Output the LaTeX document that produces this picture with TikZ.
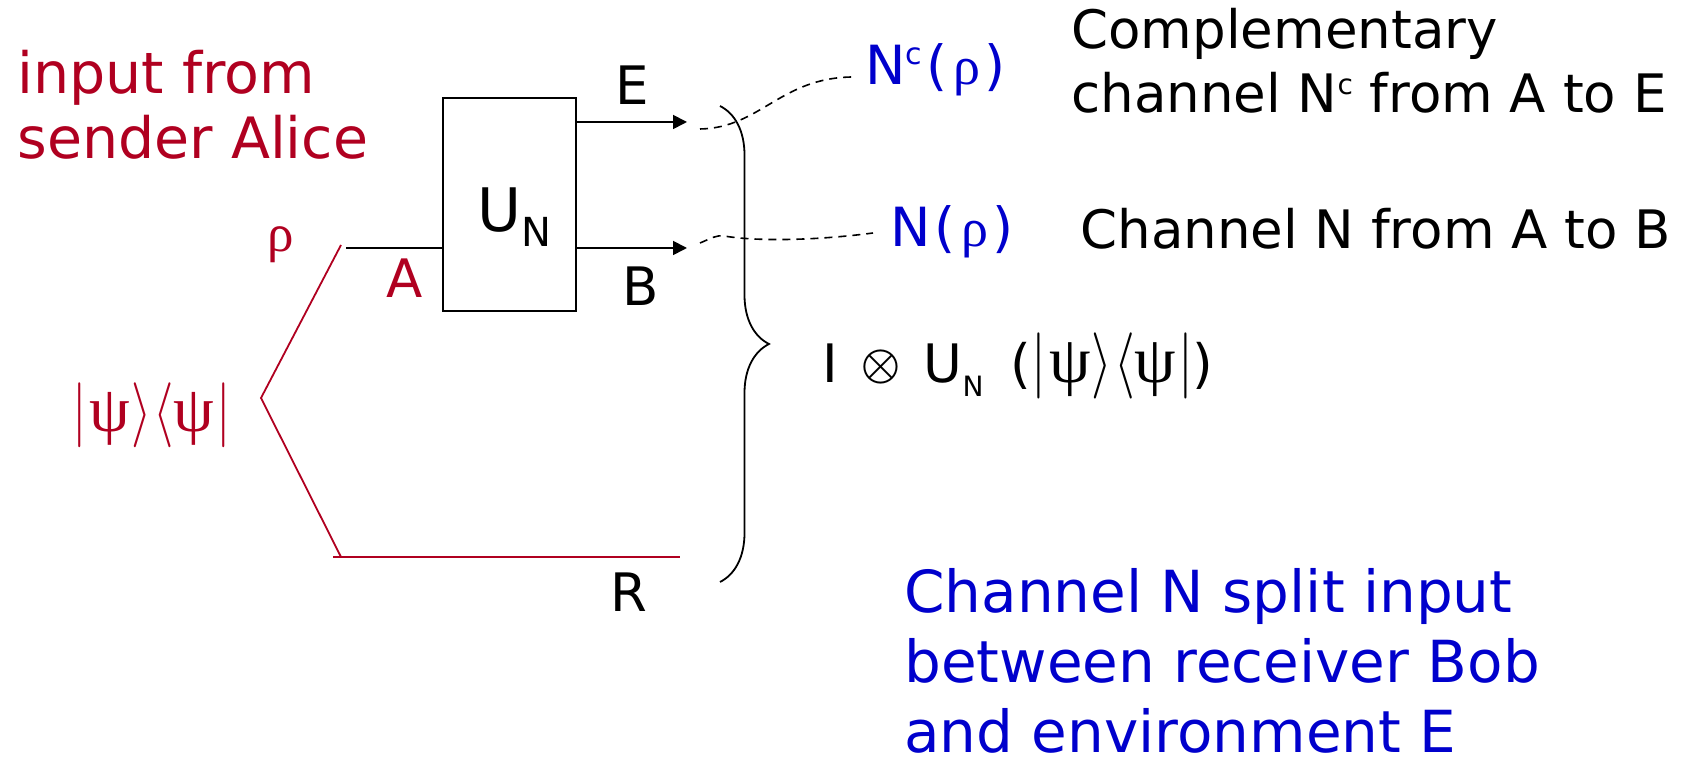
\documentclass[tikz,border=0pt]{standalone}
\usepackage{fontspec}
\usepackage{unicode-math}
\setmainfont{DejaVu Sans}
\newfontfamily\greekfont{Liberation Serif}
\usetikzlibrary{arrows.meta,calc,decorations.pathreplacing}
\definecolor{alicered}{RGB}{176,0,32}
\definecolor{bobblue}{RGB}{0,0,204}
\newcommand{\grk}[1]{{\greekfont #1}}
\newcommand{\bigpsi}{\scalebox{1.25}{\greekfont ψ}}
\newcommand{\tall}[1]{\scalebox{1}[1.25]{$#1$}}
\newcommand{\lowsub}[3]{\raisebox{-#1}{\fontsize{#2}{#2}\selectfont #3}}
\newcommand{\highsup}[3]{\raisebox{#1}{\fontsize{#2}{#2}\selectfont #3}}
\newcommand{\ketbra}{\tall{|}\hspace{1.5pt}\bigpsi\hspace{0.5pt}\tall{\rangle}\hspace{1pt}\tall{\langle}\bigpsi\hspace{1pt}\tall{|}}

\begin{document}
\begin{tikzpicture}[
  x=0.5pt, y=-0.5pt,
  txt/.style={inner sep=0pt, anchor=base west, font=\fontsize{26.5}{32}\selectfont},
  redtxt/.style={txt, text=alicered, font=\fontsize{28.5}{32.5}\selectfont},
  bluetxt/.style={txt, text=bobblue, font=\fontsize{29}{35}\selectfont},
  unitbox/.style={draw, line width=0.9pt, minimum width=66.5pt,
                  minimum height=106.5pt, inner sep=0pt},
  wire/.style={line width=0.9pt},
  qwire/.style={wire, draw=alicered},
  arrow/.style={wire, -{Triangle[length=7pt, width=7pt]}},
  dashlink/.style={line width=0.8pt, dash pattern=on 4pt off 3pt}
]
\useasboundingbox (0,0) rectangle (1694,763);

% sender side
\node[redtxt, anchor=north west, align=left] (alice) at (17,50) {input from\\sender Alice};
\node[txt, text=alicered] (rho) at (267,252) {\grk{ρ}};
\node[txt, text=alicered] (alab) at (386,298) {A};
\node[txt, text=alicered, font=\fontsize{26}{26}\selectfont] (psi) at (72,432) {\ketbra};

% the isometry
\node[unitbox] (unit) at (509.5,204.5) {};
\node[txt, font=\fontsize{30}{30}\selectfont] (ulab) at (477,232) {U\lowsub{7.5pt}{20}{N}};
\node[txt] (elab) at (615,105) {E};
\node[txt] (blab) at (622,306) {B};
\node[txt] (rlab) at (610,612) {R};

% outputs
\node[bluetxt, font=\fontsize{27}{27}\selectfont] (nc) at (865,85)
  {N\highsup{10pt}{15}{c}\hspace{2pt}(\hspace{3pt}\grk{ρ}\hspace{2pt})};
\node[bluetxt, font=\fontsize{27}{27}\selectfont] (nb) at (890,247)
  {N\hspace{2pt}(\hspace{3pt}\grk{ρ}\hspace{2pt})};
\node[txt, anchor=north west, align=left] (comp) at (1071,8)
  {Complementary\\channel N\highsup{9pt}{14}{c} from A to E};
\node[txt] (chan) at (1080,249) {Channel N from A to B};
\node[txt] (iout) at (822,383)
  {I\hspace{11.5pt}\raisebox{1.75pt}{\fontsize{25}{25}\selectfont$\otimes$}\hspace{12pt}U\lowsub{7pt}{14}{N}\hspace{13.5pt}(\ketbra)};
\node[bluetxt, anchor=north west, align=left, text depth=0pt] (split) at (904,568)
  {Channel N split input\\between receiver Bob\\and environment E};

\coordinate (eTip) at (687,122);
\coordinate (bTip) at (687,248);
\coordinate (aStart) at (346,248);
\coordinate (rhoEnd) at (341,245);
\coordinate (fork) at (261,398);
\coordinate (rEnd) at (341,557);
\coordinate (rStart) at (333,557);
\coordinate (rTip) at (680,557);
\coordinate (braceTop) at (720,106);
\coordinate (braceBot) at (720,582);
\coordinate (eDash) at (700,129);
\coordinate (bDash) at (700,243);

\draw[arrow] (unit.east |- eTip) -- (eTip);
\draw[arrow] (unit.east |- bTip) -- (bTip);
\draw[wire] (aStart) -- (aStart -| unit.west);
\draw[qwire] (rhoEnd) -- (fork) -- (rEnd);
\draw[qwire] (rStart) -- (rTip);
\draw[wire, decorate, decoration={brace, amplitude=24.5pt}] (braceTop) -- (braceBot);
\draw[dashlink] (eDash) .. controls (760,128) and (780,78) .. ($(nc.base west)+(-13,-8)$);
\draw[dashlink] (bDash) .. controls (712,238) and (716,235) .. (724,236)
  .. controls (760,242) and (820,240) .. ($(nb.base west)+(-17,-14)$);
\end{tikzpicture}
\end{document}
